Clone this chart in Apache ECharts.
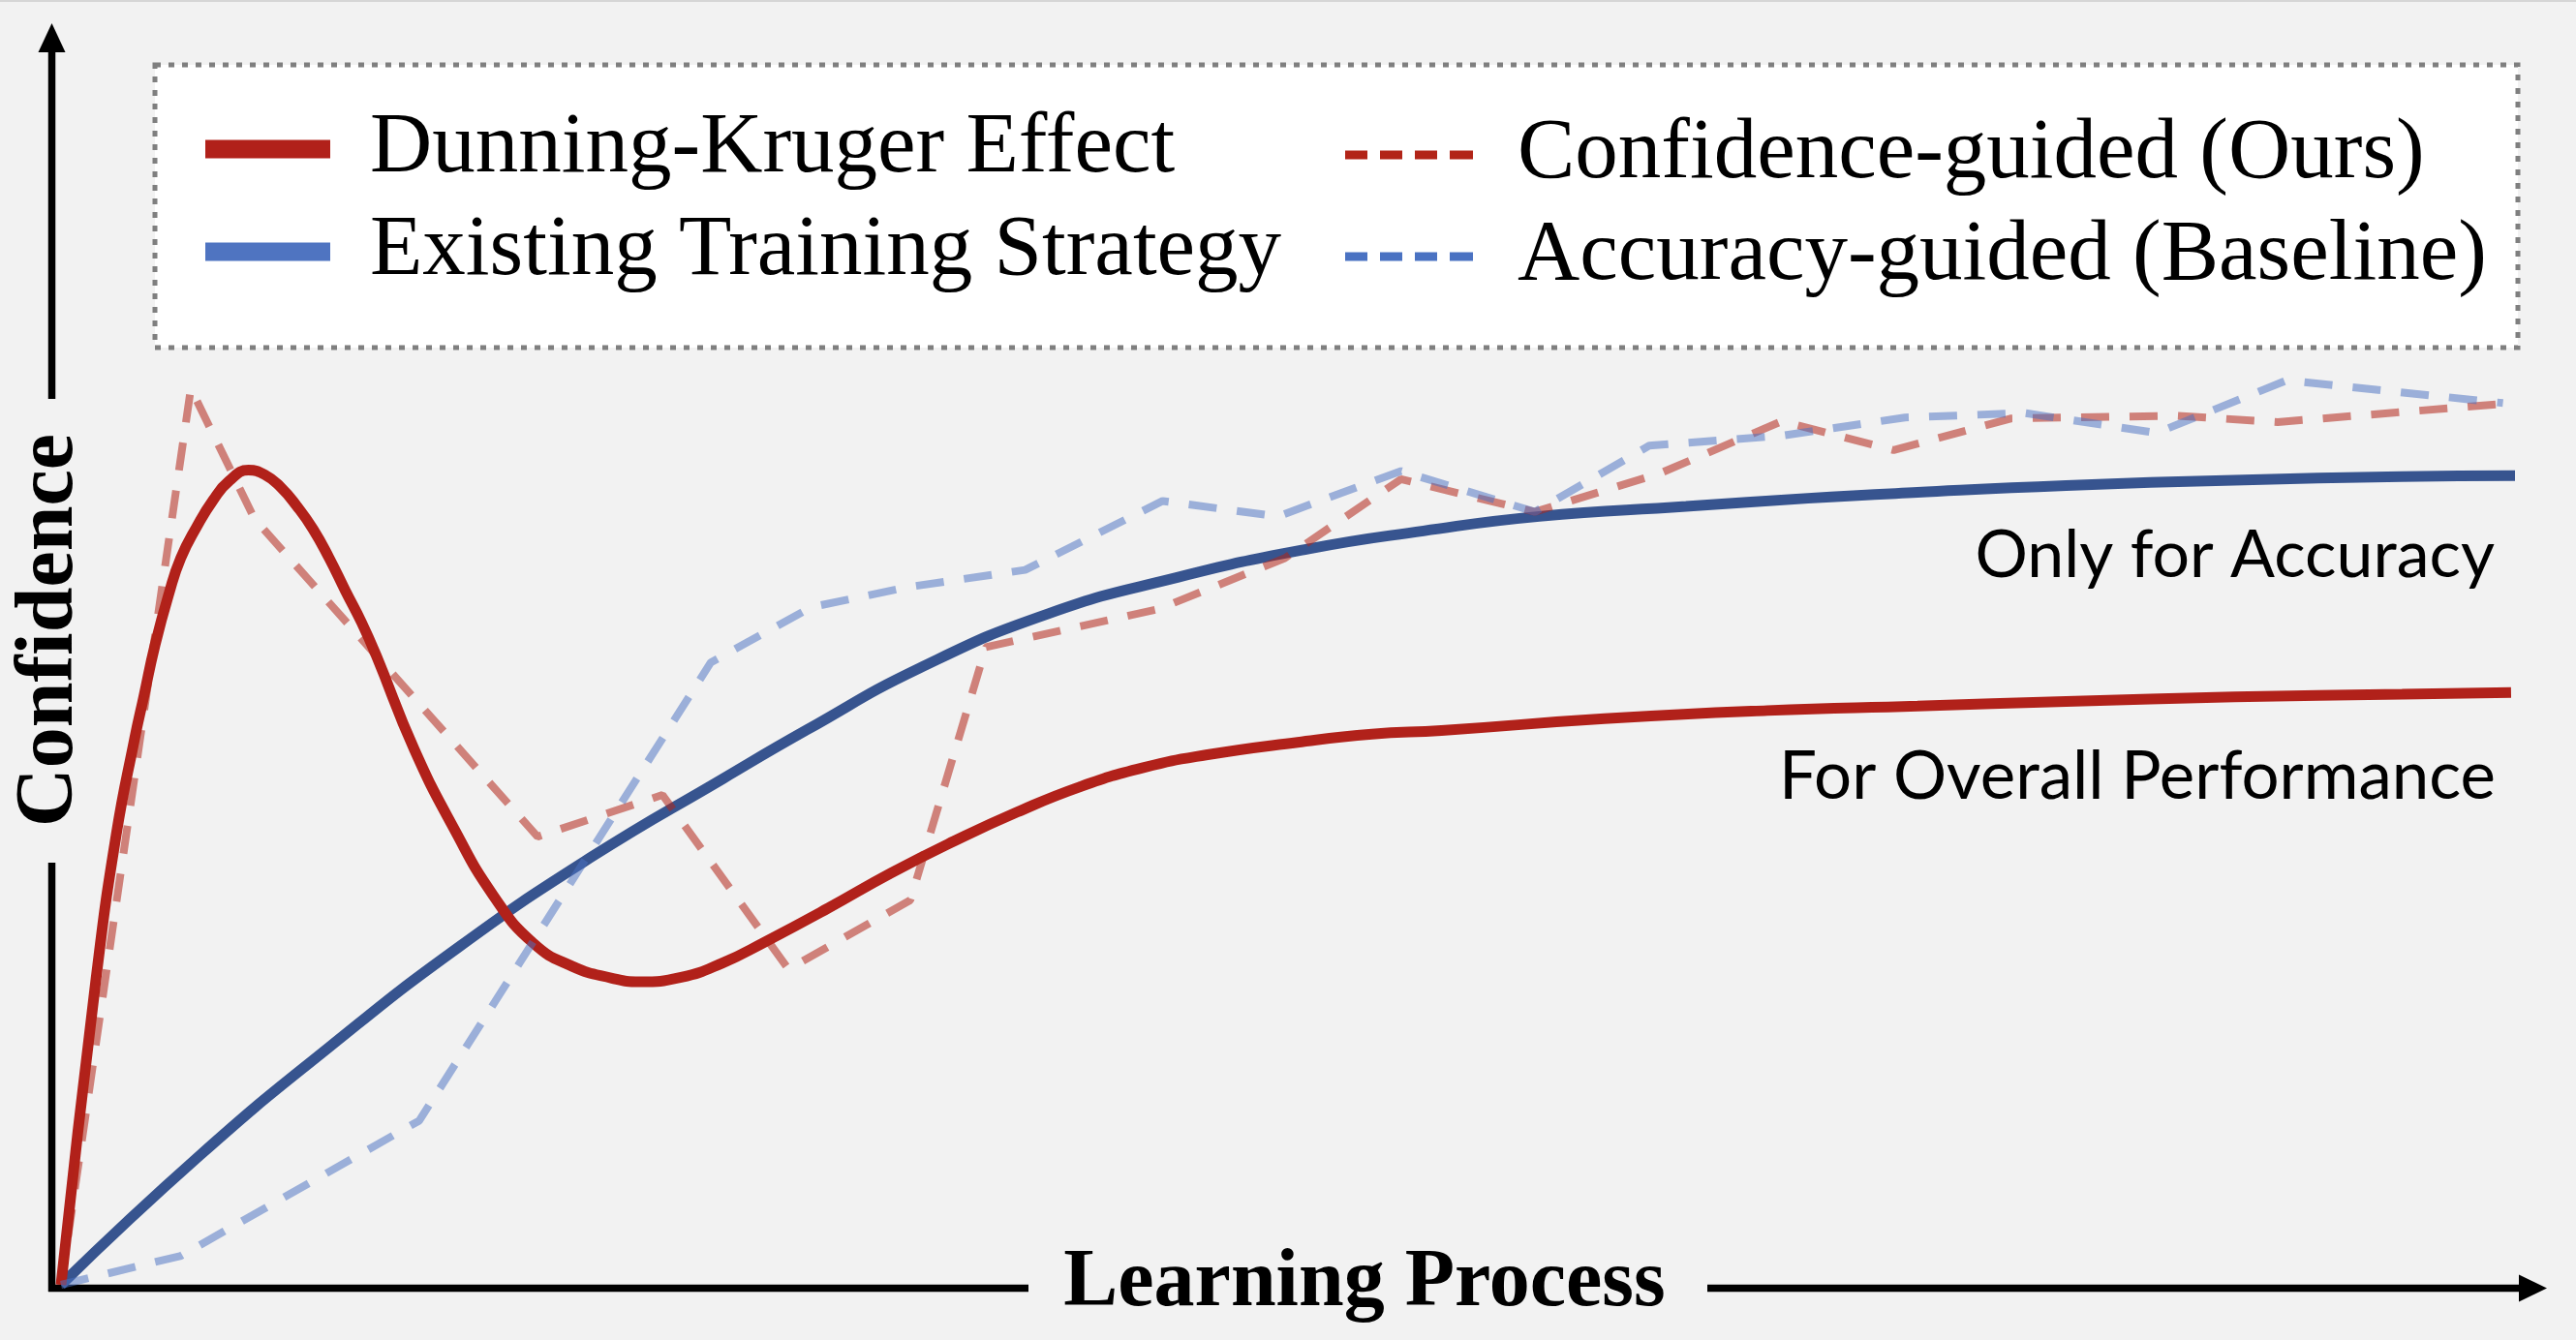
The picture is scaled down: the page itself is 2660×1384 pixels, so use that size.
<!DOCTYPE html>
<html>
<head>
<meta charset="utf-8">
<title>Dunning-Kruger Effect and training strategies</title>
<script src="https://cdn.jsdelivr.net/npm/echarts@6.0.0/dist/echarts.min.js"></script>
<style>
    html, body { margin: 0; padding: 0; background: #f2f2f2; }
    #main { width: 2660px; height: 1384px; }
</style>
</head>
<body>
<div id="main"></div>
<script type="text/javascript">
    // learning process (x, 0-100) / confidence (y, 0-100)

    // Dunning-Kruger Effect (solid red)
    var dkX = [0, 1.43, 2.25, 3.0, 3.37, 3.83, 4.4, 4.88, 5.54, 6.2, 6.85, 7.64, 8.3, 8.96, 9.62, 10.27, 10.93, 11.59, 12.25, 12.84, 14.4, 16.01, 17.62, 19.23, 20.84, 22.45, 23.56, 25.27, 26.98, 28.69, 31.25, 33.83, 36.39, 38.96, 41.53, 44.1, 46.66, 50.39, 53.42, 56.25, 62.89, 69.53, 75.65, 81.71, 88.56, 95.4, 99.84];
    var dkY = [0, 33.8, 49.6, 60.2, 64.8, 70.5, 76.2, 80.1, 83.6, 86.5, 88.6, 89.8, 89.3, 87.9, 85.8, 83.3, 80.1, 76.5, 73.0, 69.4, 59.0, 50.3, 42.9, 37.7, 35.1, 33.8, 33.4, 33.9, 35.5, 37.8, 41.5, 45.4, 48.9, 52.1, 54.9, 57.0, 58.4, 59.8, 60.7, 61.1, 62.4, 63.3, 63.8, 64.3, 64.8, 65.1, 65.3];

    // Existing Training Strategy (solid blue)
    var exX = [0, 5.67, 10.93, 16.19, 21.64, 26.98, 30.41, 35.0, 40.26, 45.53, 50.79, 55.52, 60.24, 66.22, 71.19, 75.65, 81.71, 88.56, 95.38, 100];
    var exY = [0, 14.3, 26.2, 37.2, 47.2, 55.8, 61.2, 68.0, 74.0, 78.0, 81.1, 83.1, 84.7, 85.8, 86.7, 87.35, 88.1, 88.7, 89.1, 89.2];

    // Confidence-guided (Ours) (dashed red)
    var cgX = [0, 5.29, 7.89, 19.42, 24.51, 29.64, 34.61, 37.69, 44.74, 49.87, 54.6, 60.06, 65.11, 70.13, 74.68, 79.48, 86.15, 90.33, 99.51];
    var cgY = [0, 98.8, 84.4, 49.4, 54.0, 34.8, 42.4, 70.3, 74.5, 80.1, 88.8, 85.2, 89.4, 95.2, 92.0, 95.5, 95.8, 95.1, 97.1];

    // Accuracy-guided (Baseline) (dashed blue)
    var agX = [0, 4.89, 14.6, 26.48, 30.58, 34.49, 39.29, 44.89, 49.59, 54.61, 60.06, 64.72, 70.13, 75.14, 79.99, 85.4, 90.69, 99.51];
    var agY = [0, 3.2, 18.1, 68.6, 74.7, 76.9, 78.8, 86.4, 84.7, 89.7, 85.2, 92.5, 93.6, 95.6, 96.1, 93.9, 99.7, 97.2];

    function pairs(xs, ys) {
        return xs.map(function (x, i) { return [x, ys[i]]; });
    }

    var myChart = echarts.init(document.getElementById('main'));

    var serif = '"Liberation Serif", "Times New Roman", serif';
    var sans = 'Lato, "Open Sans", sans-serif';

    var option = {
        animation: false,
        backgroundColor: '#f2f2f2',
        grid: { left: 63, right: 63, top: 390, bottom: 57 },
        xAxis: { type: 'value', min: 0, max: 100, show: false },
        yAxis: { type: 'value', min: 0, max: 100, show: false },
        legend: [{
            orient: 'vertical', left: 212, top: 109, padding: 0, itemGap: 16,
            itemWidth: 129, itemHeight: 19, icon: 'rect', selectedMode: false,
            itemStyle: { borderWidth: 0 },
            textStyle: { fontFamily: serif, fontSize: 89, color: '#000', lineHeight: 90, padding: [0, 0, 0, 36] },
            data: [
                { name: 'Dunning-Kruger Effect', itemStyle: { color: '#b1211a' } },
                { name: 'Existing Training Strategy', itemStyle: { color: '#4f74c1' } }
            ]
        }, {
            orient: 'vertical', left: 1389, top: 115, padding: 0, itemGap: 15,
            itemWidth: 132, itemHeight: 9, selectedMode: false,
            icon: 'path://M0,0h23v9h-23zM36,0h23v9h-23zM72,0h23v9h-23zM108,0h24v9h-24z',
            itemStyle: { borderWidth: 0 },
            textStyle: { fontFamily: serif, fontSize: 89, color: '#000', lineHeight: 90, padding: [0, 0, 0, 41] },
            data: [
                { name: 'Confidence-guided (Ours)', itemStyle: { color: '#b22418' } },
                { name: 'Accuracy-guided (Baseline)', itemStyle: { color: '#4a72c2' } }
            ]
        }],
        series: [{
            name: 'Existing Training Strategy',
            type: 'line', smooth: 0.5, symbol: 'none', clip: false,
            lineStyle: { color: '#37548f', width: 11 },
            data: pairs(exX, exY)
        }, {
            name: 'Dunning-Kruger Effect',
            type: 'line', smooth: 0.5, symbol: 'none', clip: false,
            lineStyle: { color: '#b1211a', width: 11 },
            data: pairs(dkX, dkY)
        }, {
            name: 'Confidence-guided (Ours)',
            type: 'line', symbol: 'none', clip: false,
            lineStyle: { color: '#b22418', width: 8, opacity: 0.55, type: [29, 21] },
            data: pairs(cgX, cgY)
        }, {
            name: 'Accuracy-guided (Baseline)',
            type: 'line', symbol: 'none', clip: false,
            lineStyle: { color: '#4a72c2', width: 8, opacity: 0.52, type: [29, 21] },
            data: pairs(agX, agY)
        }],
        graphic: [
            // thin frame line at the top
            { type: 'rect', shape: { x: 0, y: 0, width: 2660, height: 2 }, style: { fill: '#d6d6d6' } },
            // legend box
            { type: 'rect', z: 0, shape: { x: 160, y: 67, width: 2440, height: 292 },
              style: { fill: '#ffffff', stroke: '#7f7f7f', lineWidth: 5, lineDash: [6, 8] } },
            // y axis with arrow, broken by its name
            { type: 'line', shape: { x1: 53.5, y1: 50, x2: 53.5, y2: 412 }, style: { stroke: '#000', lineWidth: 7.5 } },
            { type: 'line', shape: { x1: 53.5, y1: 891, x2: 53.5, y2: 1334 }, style: { stroke: '#000', lineWidth: 7.5 } },
            { type: 'polygon', shape: { points: [[53.5, 24], [39.5, 54], [67.5, 54]] }, style: { fill: '#000' } },
            { type: 'text', x: 52, y: 651, rotation: Math.PI / 2,
              style: { text: 'Confidence', align: 'center', verticalAlign: 'middle', fill: '#000',
                       fontFamily: serif, fontWeight: 'bold', fontSize: 84 } },
            // x axis with arrow, broken by its name
            { type: 'line', shape: { x1: 50, y1: 1330.5, x2: 1062, y2: 1330.5 }, style: { stroke: '#000', lineWidth: 7.5 } },
            { type: 'line', shape: { x1: 1763, y1: 1330.5, x2: 2606, y2: 1330.5 }, style: { stroke: '#000', lineWidth: 7.5 } },
            { type: 'polygon', shape: { points: [[2630, 1330.5], [2601, 1316.5], [2601, 1344.5]] }, style: { fill: '#000' } },
            { type: 'text', x: 1409, y: 1326,
              style: { text: 'Learning Process', align: 'center', verticalAlign: 'middle', fill: '#000',
                       fontFamily: serif, fontWeight: 'bold', fontSize: 84 } },
            // curve notes
            { type: 'text', x: 2576, y: 574,
              style: { text: 'Only for Accuracy', align: 'right', verticalAlign: 'middle', fill: '#000',
                       fontFamily: sans, fontSize: 68 } },
            { type: 'text', x: 2577, y: 803,
              style: { text: 'For Overall Performance', align: 'right', verticalAlign: 'middle', fill: '#000',
                       fontFamily: sans, fontSize: 69 } }
        ]
    };

    myChart.setOption(option);
</script>
</body>
</html>
